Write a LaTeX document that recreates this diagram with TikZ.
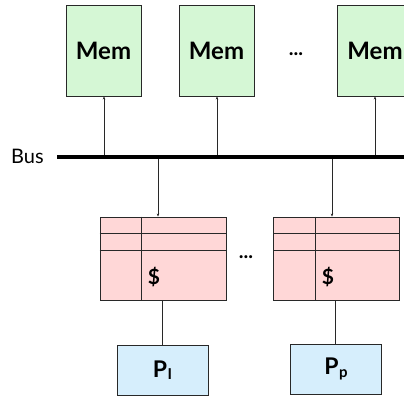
\documentclass[tikz,border=0pt]{standalone}
\usepackage{fontspec}
\setmainfont{Lato}
\usetikzlibrary{arrows.meta}
\definecolor{memfill}{RGB}{213,247,213}
\definecolor{cachefill}{RGB}{255,215,215}
\definecolor{procfill}{RGB}{214,238,252}
\definecolor{edge}{RGB}{40,40,40}
\tikzset{
  membox/.style={draw=edge, line width=0.9pt, fill=memfill, minimum width=75pt, minimum height=91pt, inner sep=0pt, font=\fontsize{24}{26}\selectfont\bfseries},
  cachebox/.style={draw=edge, line width=0.9pt, fill=cachefill, minimum width=126pt, minimum height=83pt, inner sep=0pt},
  procbox/.style={draw=edge, line width=0.9pt, fill=procfill, minimum width=91pt, minimum height=50pt, inner sep=0pt, font=\fontsize{23}{25}\selectfont\bfseries},
  arr/.style={draw=edge, line width=0.6pt, -{Stealth[length=3pt,width=2.5pt]}},
  plain/.style={draw=edge, line width=0.8pt},
  cellline/.style={draw=edge, line width=0.9pt},
  buslabel/.style={font=\fontsize{20}{22}\selectfont, inner sep=0pt},
  dots/.style={font=\fontsize{20}{22}\selectfont\bfseries, inner sep=0pt},
  dollar/.style={font=\fontsize{21}{23}\selectfont\bfseries, inner sep=0pt}
}
\begin{document}
\begin{tikzpicture}[x=1pt,y=-1pt]
\useasboundingbox (0,0) rectangle (404,396);
% memories
\node[membox] (m1) at (103.5,50.5) {Mem};
\node[membox] (m2) at (216.5,50.5) {Mem};
\node[membox] (m3) at (375,50.5) {Mem};
\node[dots] (mdots) at (296,54) {...};
% bus
\coordinate (busL) at (57,157);
\coordinate (busR) at (406,157);
\draw[line width=4.5pt] (busL) -- (busR);
\node[buslabel, anchor=west] (buslbl) at (11,156) {Bus};
\coordinate (bm1) at (104,155);
\coordinate (bm2) at (217,155);
\coordinate (bm3) at (375,155);
\draw[arr] (bm1) -- (m1.south -| bm1);
\draw[arr] (bm2) -- (m2.south -| bm2);
\draw[arr] (bm3) -- (m3.south -| bm3);
% caches
\node[cachebox] (c1) at (163,258.5) {};
\node[cachebox] (c2) at (336.5,258.5) {};
\foreach \c/\dx in {c1/141,c2/315}{
  \draw[cellline] (\c.north west |- 0,233) -- (\c.north east |- 0,233);
  \draw[cellline] (\c.north west |- 0,250) -- (\c.north east |- 0,250);
  \draw[cellline] (\c.north -| \dx,0) -- (\c.south -| \dx,0);
}
\node[dollar] (d1) at (154,277) {\$};
\node[dollar] (d2) at (328,277) {\$};
\node[dots] (cdots) at (246,257) {...};
\coordinate (bc1) at (158,159);
\coordinate (bc2) at (332,159);
\draw[arr] (bc1) -- (c1.north -| bc1);
\draw[arr] (bc2) -- (c2.north -| bc2);
% processors
\node[procbox] (p1) at (162.5,370) {P\kern0.5pt\raisebox{-2pt}{\fontsize{15}{16}\selectfont I}};
\node[procbox] (p2) at (336,369) {P\kern0.5pt\raisebox{-3pt}{\fontsize{15}{16}\selectfont p}};
\draw[plain] (c1.south -| 162,0) -- (p1.north -| 162,0);
\draw[plain] (c2.south -| 335,0) -- (p2.north -| 335,0);
\end{tikzpicture}
\end{document}
